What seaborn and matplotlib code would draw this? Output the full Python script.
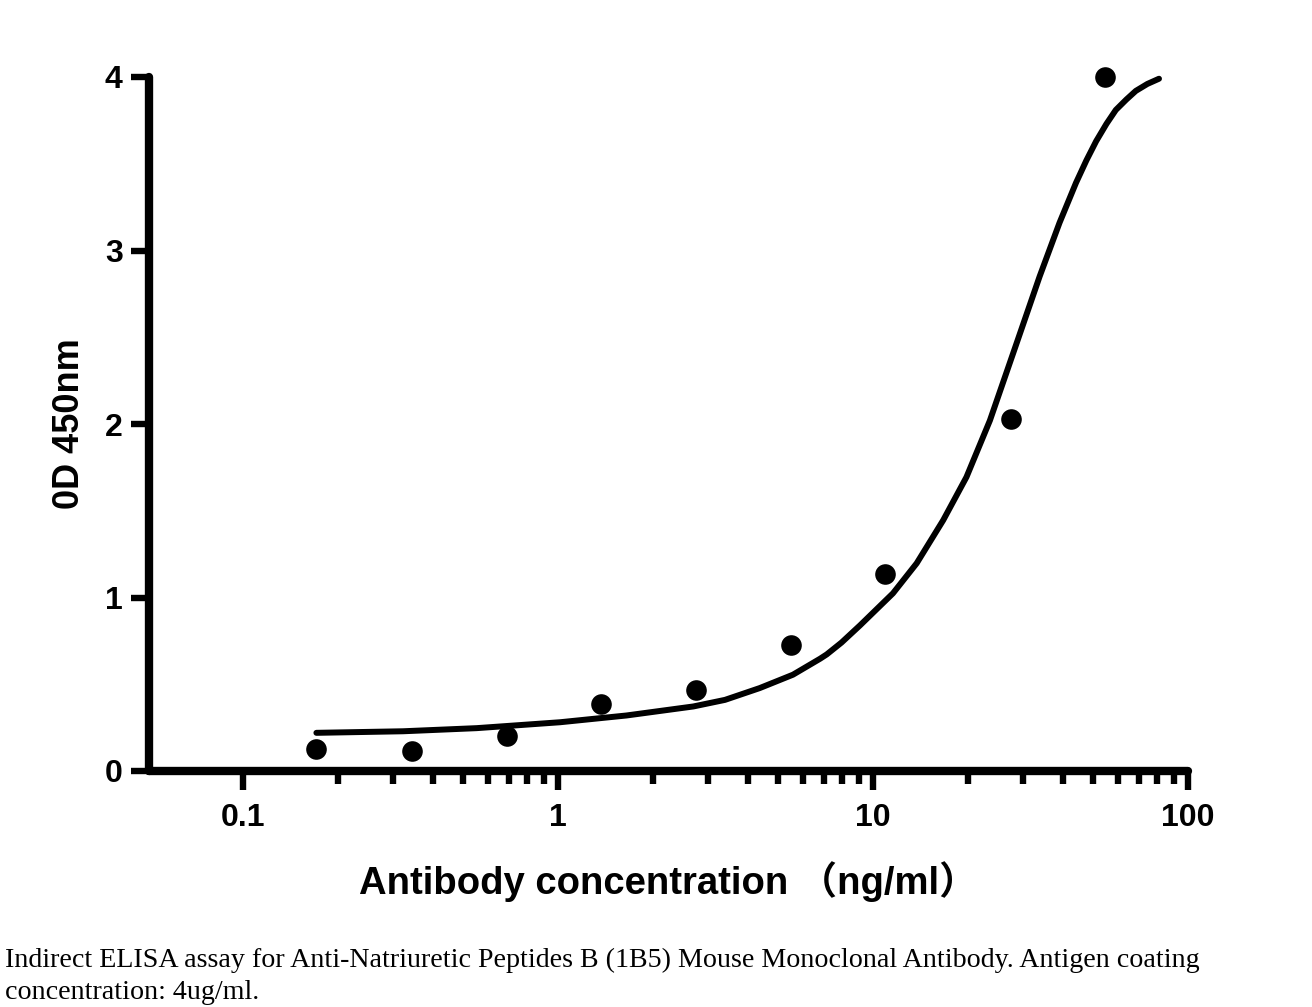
import numpy as np
import pandas as pd
import matplotlib
matplotlib.use("Agg")
import matplotlib.pyplot as plt
from matplotlib.ticker import FixedLocator, NullFormatter
import seaborn as sns

# measured data points
conc = [0.171, 0.344, 0.689, 1.37, 2.74, 5.49, 10.9, 27.4, 54.5]
od = [0.124, 0.114, 0.199, 0.388, 0.468, 0.728, 1.133, 2.03, 4.0]

# fitted curve
curve_x = [0.171, 0.322, 0.552, 1.015, 1.65, 2.69, 3.39, 4.37, 5.57, 6.79, 7.13, 7.94, 9.09,
           11.57, 13.76, 16.7, 19.8, 23.5, 28.5, 33.8, 39.1, 44.1, 47.6, 51.1, 55.1,
           59.0, 63.7, 68.3, 74.3, 80.9]
curve_y = [0.220, 0.229, 0.247, 0.281, 0.320, 0.372, 0.410, 0.478, 0.555, 0.647, 0.672, 0.740, 0.839,
           1.024, 1.197, 1.445, 1.694, 2.02, 2.46, 2.85, 3.16, 3.39, 3.52, 3.63, 3.73,
           3.81, 3.87, 3.92, 3.96, 3.99]

x_ticks = [0.1, 1, 10, 100]
x_tick_labels = ["0.1", "1", "10", "100"]
x_minor_ticks = [0.2, 0.3, 0.4, 0.5, 0.6, 0.7, 0.8, 0.9,
                 2, 3, 4, 5, 6, 7, 8, 9,
                 20, 30, 40, 50, 60, 70, 80, 90]
y_ticks = [0, 1, 2, 3, 4]
y_tick_labels = ["0", "1", "2", "3", "4"]

x_label = "Antibody concentration （ng/ml）"
y_label = "0D 450nm"
caption = ("Indirect ELISA assay for Anti-Natriuretic Peptides B (1B5) Mouse Monoclonal Antibody. Antigen coating\n"
           "concentration: 4ug/ml.")

sns.set_style("ticks")
plt.rcParams['font.family'] = ['Liberation Sans', 'Noto Sans CJK SC', 'DejaVu Sans']
plt.rcParams.update({"text.color": "black", "axes.labelcolor": "black",
                     "xtick.color": "black", "ytick.color": "black",
                     "axes.edgecolor": "black"})

fig = plt.figure(figsize=(13.12, 10.07), dpi=100)
ax = fig.add_axes([149/1312, 1 - 771/1007, (1188 - 149)/1312, (771 - 77)/1007])

pts = pd.DataFrame({"conc": conc, "od": od})
crv = pd.DataFrame({"x": curve_x, "y": curve_y})

sns.lineplot(data=crv, x="x", y="y", ax=ax, color="black", linewidth=4.3,
             solid_capstyle="round", solid_joinstyle="round", clip_on=False)
sns.scatterplot(data=pts, x="conc", y="od", ax=ax, color="black", s=220,
                edgecolor="black", linewidth=0, clip_on=False, zorder=5)

ax.set_xscale("log")
ax.set_xlim(0.0503, 100)
ax.set_ylim(0, 4)

ax.xaxis.set_major_locator(FixedLocator(x_ticks))
ax.set_xticklabels(x_tick_labels)
ax.xaxis.set_minor_locator(FixedLocator(x_minor_ticks))
ax.xaxis.set_minor_formatter(NullFormatter())
ax.set_yticks(y_ticks)
ax.set_yticklabels(y_tick_labels)
ax.yaxis.set_minor_locator(FixedLocator([]))

for side in ["top", "right"]:
    ax.spines[side].set_visible(False)
for side in ["left", "bottom"]:
    ax.spines[side].set_linewidth(6)
    ax.spines[side].set_capstyle("round")
    ax.spines[side].set_color("black")

ax.tick_params(axis="x", which="major", length=14, width=4.6, direction="out", pad=9, colors="black")
ax.tick_params(axis="x", which="minor", length=9, width=4.6, direction="out", colors="black")
ax.tick_params(axis="y", which="major", length=13, width=4.6, direction="out", pad=6, colors="black")
for lab in ax.get_xticklabels() + ax.get_yticklabels():
    lab.set_fontsize(23)
    lab.set_fontweight("bold")

ax.set_xlabel(x_label, fontsize=27.5, fontweight="bold", labelpad=20, color="black")
ax.set_ylabel(y_label, fontsize=26, fontweight="bold", labelpad=13, color="black")

fig.text(5/1312, 1 - 948/1007, caption, fontsize=20.2, family="Liberation Serif",
         va="top", ha="left", linespacing=1.35, color="black")

fig.savefig("out.png", dpi=100)
